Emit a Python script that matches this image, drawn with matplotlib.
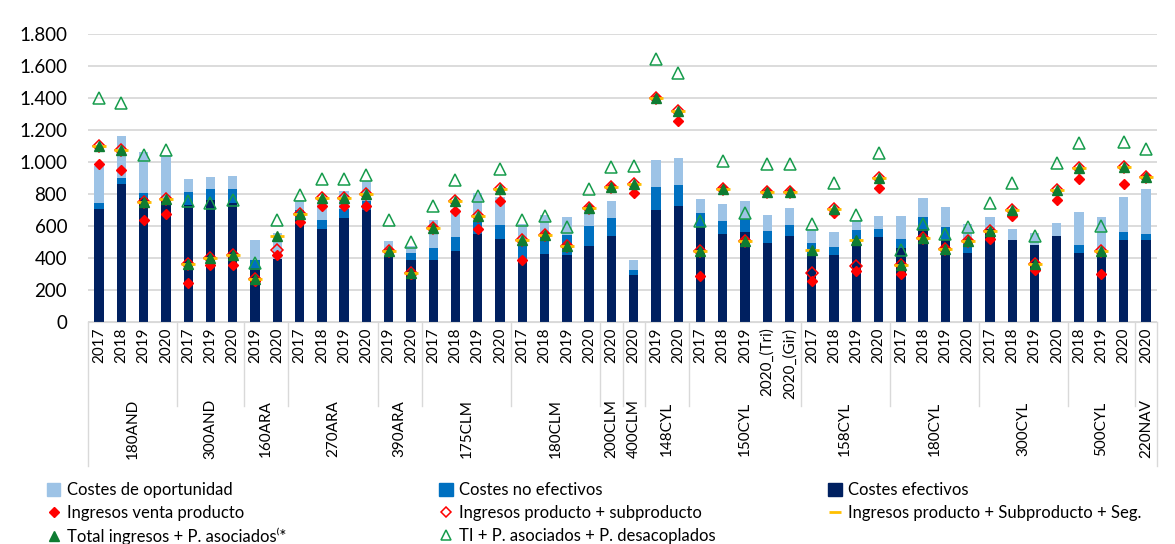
import matplotlib
matplotlib.use('Agg')
import matplotlib.pyplot as plt
import matplotlib.transforms as mtransforms
from matplotlib.lines import Line2D
from matplotlib.patches import Patch
from matplotlib.ticker import FuncFormatter
import numpy as np

plt.rcParams['font.family'] = ['Lato', 'DejaVu Sans']

groups = ['180AND', '300AND', '160ARA', '270ARA', '390ARA', '175CLM', '180CLM', '200CLM',
          '400CLM', '148CYL', '150CYL', '158CYL', '180CYL', '300CYL', '500CYL', '220NAV']
group_sizes = [4, 3, 2, 4, 2, 4, 4, 1, 1, 2, 5, 4, 4, 4, 3, 1]
years = ['2017', '2018', '2019', '2020',
         '2017', '2019', '2020',
         '2019', '2020',
         '2017', '2018', '2019', '2020',
         '2019', '2020',
         '2017', '2018', '2019', '2020',
         '2017', '2018', '2019', '2020',
         '2020',
         '2020',
         '2019', '2020',
         '2017', '2018', '2019', '2020_(Tri)', '2020_(Gir)',
         '2017', '2018', '2019', '2020',
         '2017', '2018', '2019', '2020',
         '2017', '2018', '2019', '2020',
         '2018', '2019', '2020',
         '2020']

costes_efectivos = [708, 864, 775, 755, 729, 760, 745, 340, 394, 644, 583, 652, 698, 412, 387, 390,
                    446, 550, 521, 395, 427, 419, 473, 537, 296, 702, 725, 594, 548, 565, 496, 537,
                    423, 417, 517, 533, 465, 581, 513, 433, 583, 510, 483, 540, 431, 406, 510, 510]
costes_no_efectivos = [36, 34, 30, 20, 81, 69, 84, 47, 0, 54, 52, 54, 56, 0, 46, 70,
                       85, 81, 85, 109, 125, 123, 127, 111, 27, 142, 131, 87, 81, 79, 73, 69,
                       71, 50, 56, 48, 54, 77, 83, 52, 0, 0, 0, 0, 48, 27, 50, 42]
costes_oportunidad = [231, 266, 255, 271, 84, 79, 81, 123, 160, 62, 109, 111, 125, 94, 42, 175,
                      177, 173, 175, 111, 119, 114, 108, 106, 67, 166, 167, 90, 108, 110, 100, 104,
                      85, 93, 67, 83, 145, 119, 121, 128, 73, 73, 75, 77, 206, 223, 223, 281]

ingresos_venta = [985, 952, 635, 677, 242, 356, 356, 254, 417, 623, 727, 727, 727, 442, 302, 590,
                  696, 583, 754, 390, 542, 473, 712, 844, 808, 1402, 1256, 288, 829, 506, 812, 812,
                  256, 681, 319, 837, 300, 523, 456, 506, 521, 660, 327, 760, 896, 302, 860, 906]
ingresos_subproducto = [1100, 1073, 752, 767, 360, 402, 417, 269, 448, 677, 775, 775, 802, 442, 306, 590,
                        754, 660, 833, 515, 542, 473, 712, 844, 865, 1402, 1319, 444, 829, 506, 812, 812,
                        308, 708, 350, 902, 356, 523, 456, 506, 569, 698, 365, 827, 962, 444, 969, 906]
ingresos_seg = [1100, 1073, 752, 767, 360, 402, 417, 269, 535, 677, 775, 775, 802, 442, 306, 590,
                754, 660, 833, 515, 542, 473, 712, 844, 865, 1402, 1319, 444, 829, 506, 812, 812,
                448, 708, 510, 902, 356, 523, 456, 506, 569, 698, 365, 827, 962, 444, 969, 906]
total_ingresos = [1100, 1073, 752, 767, 360, 402, 417, 269, 535, 677, 775, 775, 802, 442, 306, 590,
                  754, 660, 833, 515, 542, 473, 712, 844, 865, 1402, 1319, 444, 829, 506, 812, 812,
                  448, 708, 510, 902, 356, 523, 456, 506, 569, 698, 365, 827, 962, 444, 969, 906]
ti_desacoplados = [1400, 1369, 1046, 1073, 754, 746, 760, 369, 635, 792, 896, 896, 919, 640, 502, 723,
                   885, 790, 958, 640, 660, 594, 833, 969, 975, 1646, 1558, 629, 1004, 681, 985, 985,
                   610, 871, 667, 1058, 450, 613, 550, 594, 744, 871, 535, 994, 1121, 602, 1123, 1083]

c_oport = '#9DC3E6'
c_noef = '#0070C0'
c_ef = '#002060'
c_red = '#FF0000'
c_yellow = '#FFC000'
c_green = '#0E7C32'
c_green_open = '#169C4C'
c_grid = '#D9D9D9'

fig = plt.figure(figsize=(11.75, 5.44), dpi=100)
ax = fig.add_axes([0.0749, 0.408, 0.9098, 0.5294])

x = np.arange(len(years))
ef = np.array(costes_efectivos)
noef = np.array(costes_no_efectivos)
op = np.array(costes_oportunidad)
w = 0.42
ax.bar(x, ef, w, color=c_ef, zorder=2)
ax.bar(x, noef, w, bottom=ef, color=c_noef, zorder=2)
ax.bar(x, op, w, bottom=ef + noef, color=c_oport, zorder=2)

ax.plot(x, ingresos_venta, ls='none', marker='D', ms=5.5, color=c_red, zorder=3)
ax.plot(x, ingresos_subproducto, ls='none', marker='D', ms=6, mfc='none', mec=c_red, mew=1.1, zorder=3)
ax.plot(x, ingresos_seg, ls='none', marker='_', ms=10, mew=2, color=c_yellow, zorder=4)
ax.plot(x, total_ingresos, ls='none', marker='^', ms=7.5, color=c_green, zorder=5)
ax.plot(x, ti_desacoplados, ls='none', marker='^', ms=9, mfc='none', mec=c_green_open, mew=1.1, zorder=5)

ax.set_xlim(-0.5, len(years) - 0.5)
ax.set_ylim(0, 1800)
ax.set_yticks(np.arange(0, 1801, 200))
ax.yaxis.set_major_formatter(FuncFormatter(lambda v, p: f'{int(v):,}'.replace(',', '.')))
ax.grid(axis='y', color=c_grid, lw=1.3, zorder=0)
ax.set_axisbelow(True)
for s in ['left', 'right', 'top']:
    ax.spines[s].set_visible(False)
ax.spines['bottom'].set_color(c_grid)
ax.tick_params(axis='y', length=0, labelsize=13.5, pad=15)
ax.set_xticks(x, years, rotation=90)
ax.tick_params(axis='x', length=0, labelsize=11, pad=4)

# two-level category axis
trans = mtransforms.blended_transform_factory(ax.transData, ax.transAxes)
bounds = np.concatenate([[0], np.cumsum(group_sizes)]) - 0.5
for i, b in enumerate(bounds):
    end = -0.50 if i in (0, len(bounds) - 1) else -0.29
    ax.plot([b, b], [0, end], transform=trans, color=c_grid, lw=1, clip_on=False)
for name, lo, hi in zip(groups, bounds[:-1], bounds[1:]):
    ax.text((lo + hi) / 2, -0.37, name, transform=trans, rotation=90,
            ha='center', va='center', fontsize=11)

# legend, three columns
lbl_total = 'Total ingresos + P. asociados\u207d*'
handles = {
    'Costes de oportunidad': Patch(color=c_oport),
    'Costes no efectivos': Patch(color=c_noef),
    'Costes efectivos': Patch(color=c_ef),
    'Ingresos venta producto': Line2D([], [], ls='none', marker='D', ms=5, color=c_red),
    'Ingresos producto + subproducto': Line2D([], [], ls='none', marker='D', ms=5.5, mfc='none', mec=c_red, mew=1.1),
    'Ingresos producto + Subproducto + Seg.': Line2D([], [], ls='none', marker='_', ms=9, mew=2, color=c_yellow),
    lbl_total: Line2D([], [], ls='none', marker='^', ms=7, color=c_green),
    'TI + P. asociados + P. desacoplados': Line2D([], [], ls='none', marker='^', ms=7.5, mfc='none', mec=c_green_open, mew=1.1),
}
columns = [
    ['Costes de oportunidad', 'Ingresos venta producto', lbl_total],
    ['Costes no efectivos', 'Ingresos producto + subproducto', 'TI + P. asociados + P. desacoplados'],
    ['Costes efectivos', 'Ingresos producto + Subproducto + Seg.'],
]
for xpos, labels in zip([0.040, 0.374, 0.705], columns):
    fig.legend([handles[l] for l in labels], labels, loc='upper left', bbox_to_anchor=(xpos, 0.114),
               frameon=False, fontsize=12, handlelength=0.8, handleheight=0.8, handletextpad=0.4,
               labelspacing=0.42, borderaxespad=0, borderpad=0)

fig.savefig('out.png', dpi=100)
